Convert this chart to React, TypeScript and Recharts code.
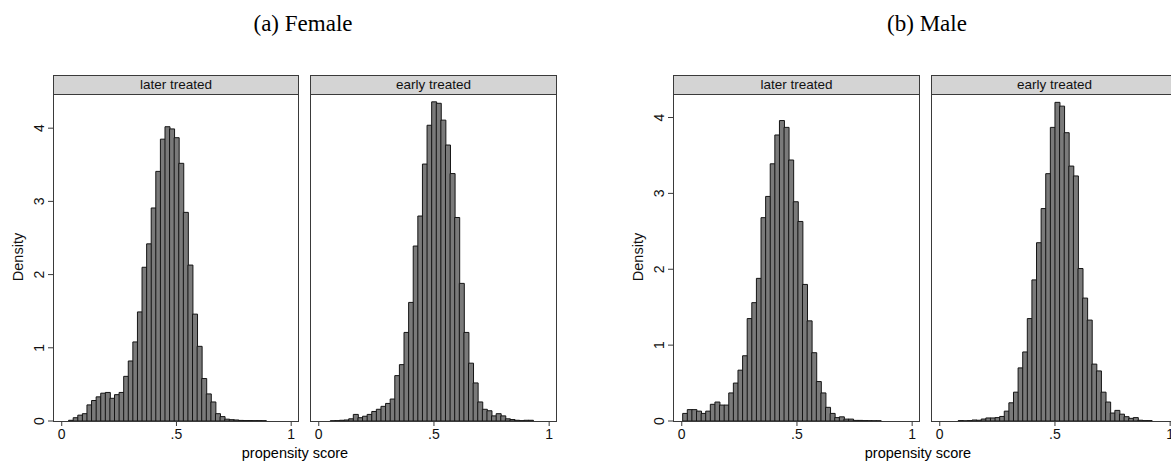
import React from "react";
import { BarChart, Bar, XAxis, YAxis } from "recharts";

// histogram bins: left edge of first bar and bin width, per panel
const femaleLaterStart = 0.03;
const femaleEarlyStart = 0.05;
const maleLaterStart = 0.004;
const maleEarlyStart = 0.08;
const binWidth = 0.02;

const femaleLater = [
  0.01, 0.045, 0.08, 0.1, 0.22, 0.28, 0.33, 0.38, 0.39, 0.31, 0.36, 0.39, 0.61,
  0.82, 1.08, 1.49, 2.1, 2.42, 2.91, 3.41, 3.85, 4.02, 3.99, 3.87, 3.52, 2.85,
  2.13, 1.46, 1.02, 0.58, 0.37, 0.26, 0.1, 0.06, 0.025, 0.018, 0.014, 0.008,
  0.006, 0.006, 0.005, 0.005, 0.004,
];
const femaleEarly = [
  0.003, 0.005, 0.01, 0.014, 0.03, 0.09, 0.045, 0.065, 0.09, 0.13, 0.16, 0.2,
  0.24, 0.3, 0.62, 0.77, 1.21, 1.62, 2.39, 2.8, 3.51, 4.04, 4.36, 4.34, 4.11,
  3.77, 3.38, 2.78, 1.88, 1.21, 0.79, 0.52, 0.26, 0.16, 0.14, 0.07, 0.1, 0.07,
  0.03, 0.02, 0.01, 0.005, 0.01, 0.01,
];
const maleLater = [
  0.1, 0.15, 0.15, 0.13, 0.1, 0.13, 0.22, 0.25, 0.21, 0.21, 0.37, 0.5, 0.67,
  0.86, 1.35, 1.56, 1.88, 2.68, 2.96, 3.39, 3.77, 3.96, 3.87, 3.44, 2.89, 2.63,
  1.8, 1.32, 0.9, 0.52, 0.37, 0.18, 0.1, 0.045, 0.055, 0.025, 0.025, 0.008,
  0.008, 0.005, 0.004, 0.003, 0.003,
];
const maleEarly = [
  0.005, 0.002, 0.005, 0.013, 0.01, 0.026, 0.04, 0.04, 0.045, 0.06, 0.13, 0.24,
  0.38, 0.7, 0.91, 1.35, 1.86, 2.35, 2.8, 3.26, 3.87, 4.2, 4.15, 3.8, 3.36,
  3.23, 2.01, 1.62, 1.33, 0.75, 0.66, 0.38, 0.25, 0.105, 0.14, 0.09, 0.057,
  0.035, 0.045, 0.01, 0.005, 0.005,
];

const xTicks = [0, 0.5, 1];
const xTickLabels = ["0", ".5", "1"];
const yTicks = [0, 1, 2, 3, 4];

const SANS = '"Liberation Sans", Arial, sans-serif';
const SERIF = '"Liberation Serif", "Times New Roman", serif';
const EDGE = "#3a3a3a";

const X_DOMAIN: [number, number] = [-0.038, 1.034];
const PLOT_TOP = 94;
const PLOT_H = 327;
const STRIP_TOP = 75;
const Y_AXIS_W = 53;

function toRows(start: number, values: number[]) {
  return values.map((v, i) => ({ x: start + (i + 0.5) * binWidth, density: v }));
}

const RotatedTick = (props: any) => {
  const { x, y, payload } = props;
  const bx = x - 2;
  return (
    <text
      x={bx}
      y={y}
      transform={`rotate(-90 ${bx} ${y})`}
      textAnchor="middle"
      fontSize={14}
      fontFamily={SANS}
      fill="#111"
    >
      {payload.value}
    </text>
  );
};

interface PanelProps {
  label: string;
  boxLeft: number;
  plotW: number;
  yMax: number;
  showY: boolean;
  start: number;
  values: number[];
}

function Panel({ label, boxLeft, plotW, yMax, showY, start, values }: PanelProps) {
  const data = toRows(start, values);
  const chartLeft = showY ? boxLeft - Y_AXIS_W : boxLeft;
  const chartW = showY ? plotW + Y_AXIS_W : plotW;
  return (
    <>
      <div style={{ position: "absolute", left: chartLeft, top: PLOT_TOP }}>
        <BarChart
          width={chartW}
          height={PLOT_H + 36}
          data={data}
          margin={{ top: 0, right: 0, bottom: 0, left: 0 }}
          barCategoryGap={0}
          barGap={0}
        >
          <XAxis
            dataKey="x"
            type="number"
            domain={X_DOMAIN}
            allowDataOverflow
            ticks={xTicks}
            tickFormatter={(v: number) => xTickLabels[xTicks.indexOf(v)] ?? String(v)}
            axisLine={false}
            tickLine={{ stroke: EDGE }}
            tickSize={5}
            tickMargin={3}
            height={36}
            tick={{ fontSize: 14, fontFamily: SANS, fill: "#111" }}
            interval={0}
          />
          <YAxis
            type="number"
            domain={[0, yMax]}
            allowDataOverflow
            ticks={yTicks}
            hide={!showY}
            width={Y_AXIS_W}
            axisLine={false}
            tickLine={{ stroke: EDGE }}
            tickSize={5}
            tick={<RotatedTick />}
            interval={0}
          />
          <Bar
            dataKey="density"
            fill="#7a7a7a"
            stroke="#151515"
            strokeWidth={1}
            isAnimationActive={false}
          />
        </BarChart>
      </div>
      <div
        style={{
          position: "absolute",
          left: boxLeft,
          top: PLOT_TOP,
          width: plotW,
          height: PLOT_H + 1,
          boxSizing: "border-box",
          border: `1px solid ${EDGE}`,
          pointerEvents: "none",
        }}
      />
      <div
        style={{
          position: "absolute",
          left: boxLeft,
          top: STRIP_TOP,
          width: plotW,
          height: PLOT_TOP - STRIP_TOP + 1,
          boxSizing: "border-box",
          border: `1px solid ${EDGE}`,
          background: "#d4d4d4",
          fontFamily: SANS,
          fontSize: 13.5,
          lineHeight: `${PLOT_TOP - STRIP_TOP - 1}px`,
          textAlign: "center",
          color: "#111",
        }}
      >
        {label}
      </div>
    </>
  );
}

function VLabel({ cx, cy, text }: { cx: number; cy: number; text: string }) {
  return (
    <div
      style={{
        position: "absolute",
        left: cx - 40,
        top: cy - 10,
        width: 80,
        height: 20,
        lineHeight: "20px",
        textAlign: "center",
        transform: "rotate(-90deg)",
        fontFamily: SANS,
        fontSize: 14.5,
        color: "#111",
      }}
    >
      {text}
    </div>
  );
}

function HLabel({ cx, cy, text, font, size }: { cx: number; cy: number; text: string; font: string; size: number }) {
  return (
    <div
      style={{
        position: "absolute",
        left: cx - 150,
        top: cy - 15,
        width: 300,
        height: 30,
        lineHeight: "30px",
        textAlign: "center",
        fontFamily: font,
        fontSize: size,
        color: "#000",
        whiteSpace: "nowrap",
      }}
    >
      {text}
    </div>
  );
}

export default function App() {
  return (
    <div
      style={{
        position: "fixed",
        left: 0,
        top: 0,
        width: 1171,
        height: 467,
        overflow: "hidden",
        background: "#fff",
      }}
    >
      <HLabel cx={303} cy={24} text="(a) Female" font={SERIF} size={23} />
      <HLabel cx={927} cy={24} text="(b) Male" font={SERIF} size={23} />

      <Panel label="later treated" boxLeft={53} plotW={246} yMax={4.467} showY start={femaleLaterStart} values={femaleLater} />
      <Panel label="early treated" boxLeft={310} plotW={247} yMax={4.467} showY={false} start={femaleEarlyStart} values={femaleEarly} />
      <Panel label="later treated" boxLeft={673} plotW={247} yMax={4.31} showY start={maleLaterStart} values={maleLater} />
      <Panel label="early treated" boxLeft={931} plotW={247} yMax={4.31} showY={false} start={maleEarlyStart} values={maleEarly} />

      <VLabel cx={17.5} cy={257} text="Density" />
      <VLabel cx={638} cy={257} text="Density" />
      <HLabel cx={295} cy={453} text="propensity score" font={SANS} size={14.5} />
      <HLabel cx={918} cy={453} text="propensity score" font={SANS} size={14.5} />
    </div>
  );
}
